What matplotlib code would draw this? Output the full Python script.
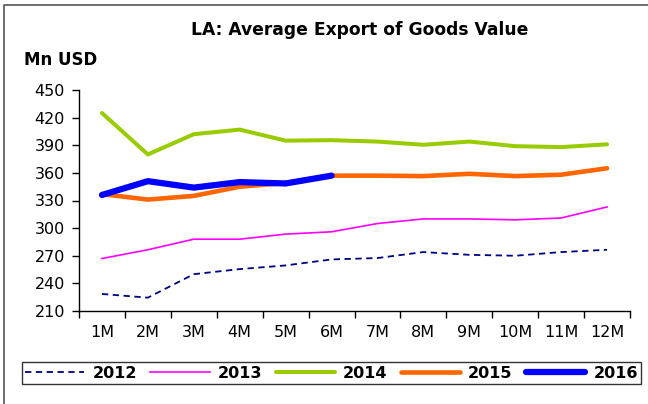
import matplotlib
matplotlib.use("Agg")
import matplotlib.pyplot as plt
from matplotlib.lines import Line2D

plt.rcParams['font.family'] = ['DejaVu Sans']

months = ["1M", "2M", "3M", "4M", "5M", "6M", "7M", "8M", "9M", "10M", "11M", "12M"]
v2012 = [228.5, 224.5, 250, 255.5, 259.5, 266, 267.5, 274, 271, 270, 274, 276.5]
v2013 = [267, 276.5, 288, 288, 293.5, 296, 305, 310, 310, 309, 311, 323]
v2014 = [425, 380, 402, 407, 395, 395.5, 394, 390.5, 394, 389, 388, 391]
v2015 = [337, 331, 335, 345, 349, 357, 357, 356.5, 359, 356.5, 358, 365]
v2016 = [336, 351, 344, 350, 348.5, 357]

fig = plt.figure(figsize=(6.48, 4.04), dpi=100)
ax = fig.add_axes([79 / 648, 1 - 311 / 404, (630 - 79) / 648, (311 - 90) / 404])

x = list(range(1, 13))
ax.plot(x, v2012, color="#000080", lw=1.3, dashes=(3.5, 2.5), label="2012")
ax.plot(x, v2013, color="#FF00FF", lw=1.2, label="2013")
ax.plot(x, v2014, color="#99CC00", lw=2.9, label="2014", solid_capstyle="round")
ax.plot(x, v2015, color="#FF6600", lw=3.3, label="2015", solid_capstyle="round")
ax.plot(x[:len(v2016)], v2016, color="#0000FF", lw=4.5, label="2016",
        solid_capstyle="round")

ax.set_xlim(0.5, 12.5)
ax.set_ylim(210, 450)
ax.set_yticks(range(210, 451, 30))
ax.set_xticks([i + 0.5 for i in range(0, 13)])
ax.set_xticklabels([])
ax.set_xticks(x, minor=True)
ax.set_xticklabels(months, minor=True)
ax.tick_params(axis="x", which="minor", length=0, pad=10, labelsize=11.5)
ax.tick_params(axis="x", which="major", length=5, width=1, direction="out")
ax.tick_params(axis="y", length=5, width=1, direction="out", labelsize=11.5, pad=5)
for s in ("top", "right"):
    ax.spines[s].set_visible(False)
for s in ("left", "bottom"):
    ax.spines[s].set_linewidth(1)

fig.text(360 / 648, 1 - 30 / 404, "LA: Average Export of Goods Value",
         ha="center", va="center", fontsize=12.3, fontweight="bold")
fig.text(24 / 648, 1 - 60 / 404, "Mn USD", ha="left", va="center",
         fontsize=12, fontweight="bold")

# outer chart frame: left and top edges
fx, fy = 4 / 648, 1 - 5 / 404
fig.add_artist(Line2D([fx, fx, 1.0], [0.0, fy, fy], transform=fig.transFigure,
                      color="#555555", lw=1.2))

leg = fig.legend(loc="center", bbox_to_anchor=(22 / 648, 1 - 386 / 404, 619 / 648, 26 / 404),
                 mode="expand", ncol=5, frameon=True, fancybox=False,
                 edgecolor="black", prop={"weight": "bold", "size": 11.5},
                 handlelength=3.7, columnspacing=0.6, handletextpad=0.5,
                 borderpad=0.2, borderaxespad=0)
leg.get_frame().set_linewidth(1)

fig.savefig("out.png", dpi=100)
